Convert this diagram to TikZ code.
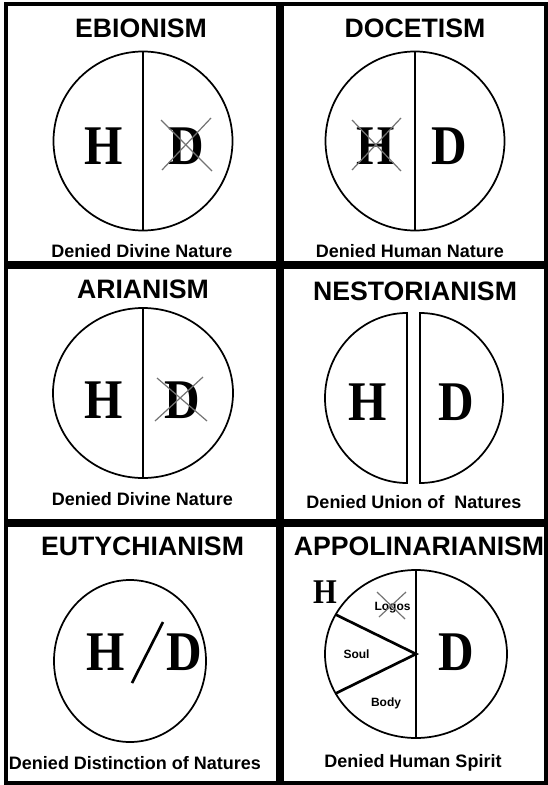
\documentclass[tikz,border=0pt]{standalone}
\usepackage{fontspec}
\setmainfont{Liberation Serif}
\setsansfont{Liberation Sans}
\tikzstyle{frame} = [line width=3pt]
\tikzstyle{divider} = [line width=6pt]
\tikzstyle{ring} = [line width=1.3pt]
\tikzstyle{split} = [line width=1.4pt]
\tikzstyle{cross} = [line width=0.9pt, black!55]
\tikzstyle{heading} = [font=\sffamily\bfseries\fontsize{20}{20}\selectfont, inner sep=0pt, anchor=base]
\tikzstyle{caption} = [font=\sffamily\bfseries\fontsize{13.5}{13.5}\selectfont, inner sep=0pt, anchor=base]
\tikzstyle{nature} = [font=\rmfamily\bfseries\fontsize{42}{42}\selectfont, inner sep=0pt, anchor=base]
\tikzstyle{part} = [font=\sffamily\bfseries\fontsize{9}{9}\selectfont, inner sep=0pt, anchor=base]
\newcommand{\nat}[1]{\scalebox{0.88}[1]{#1}}

\begin{document}
\begin{tikzpicture}[x=0.75pt, y=-0.75pt]
        \useasboundingbox (0,0) rectangle (547,785);

        % Rahmen
        \draw [frame] (6,4) rectangle (546,783);
        \draw [divider] (280,4) -- (280,783);
        \draw [divider] (6,265) -- (546,265);
        \draw [divider] (6,523) -- (546,523);

        % Ebionism
        \node (t1) [heading] at (141,37) {EBIONISM};
        \draw [ring] (143,141) circle [radius=89.5];
        \draw [split] (143,51.5) -- (143,230.5);
        \node (h1) [nature] at (104,164) {\nat{H}};
        \node (d1) [nature] at (186,164) {\nat{D}};
        \draw [cross] (161,120) -- (212,171);
        \draw [cross] (162,170) -- (211,118);
        \node (c1) [caption] at (142,257) {Denied Divine Nature};

        % Docetism
        \node (t2) [heading] at (415,37) {DOCETISM};
        \draw [ring] (415,141) circle [radius=89.5];
        \draw [split] (415,51.5) -- (415,230.5);
        \node (h2) [nature] at (376,164) {\nat{H}};
        \node (d2) [nature] at (449,164) {\nat{D}};
        \draw [cross] (352,120) -- (401,171);
        \draw [cross] (352,170) -- (401,118);
        \node (c2) [caption] at (410,257) {Denied Human Nature};

        % Arianism
        \node (t3) [heading] at (143,298) {ARIANISM};
        \draw [ring] (143,393) ellipse [x radius=90, y radius=85];
        \draw [split] (143,308) -- (143,478);
        \node (h3) [nature] at (104,418) {\nat{H}};
        \node (d3) [nature] at (182,418) {\nat{D}};
        \draw [cross] (157,378) -- (207,421);
        \draw [cross] (155,421) -- (203,377);
        \node (c3) [caption] at (142.5,505) {Denied Divine Nature};

        % Nestorianism
        \node (t4) [heading] at (415,300) {NESTORIANISM};
        \draw [ring] (407,313) arc [start angle=270, end angle=90, x radius=82, y radius=85] -- cycle;
        \draw [ring] (420,313) arc [start angle=-90, end angle=90, x radius=83, y radius=85] -- cycle;
        \node (h4) [nature] at (367.5,420) {\nat{H}};
        \node (d4) [nature] at (456.5,420) {\nat{D}};
        \node (c4) [caption] at (414,508) {Denied Union of \ Natures};

        % Eutychianism
        \node (t5) [heading] at (142.5,555) {EUTYCHIANISM};
        \draw [ring] (130,661) ellipse [x radius=76, y radius=81];
        \node (h5) [nature] at (105.5,670) {\nat{H}};
        \node (d5) [nature] at (184.5,670) {\nat{D}};
        \draw [line width=2pt] (163,622) -- (132,683);
        \node (c5) [caption] at (135,769) {Denied Distinction of Natures};

        % Appolinarianism
        \node (t6) [heading] at (419,555) {APPOLINARIANISM};
        \draw [ring] (416,654) ellipse [x radius=91, y radius=84];
        \draw [split] (416,570) -- (416,738);
        \draw [line width=2pt] (335.7,614.6) -- (416,654) -- (335.7,693.4);
        \node (h6) [nature, font=\rmfamily\bfseries\fontsize{26}{26}\selectfont] at (325,603) {\nat{H}};
        \node (logos) [part] at (392.5,610) {Logos};
        \draw [cross] (377,592) -- (405,619);
        \draw [cross] (379,617) -- (406,592);
        \node (soul) [part] at (356.5,658) {Soul};
        \node (body) [part] at (386,706) {Body};
        \node (d6) [nature] at (456,670) {\nat{D}};
        \node (c6) [caption] at (413,767) {Denied Human Spirit};
    \end{tikzpicture}
\end{document}
